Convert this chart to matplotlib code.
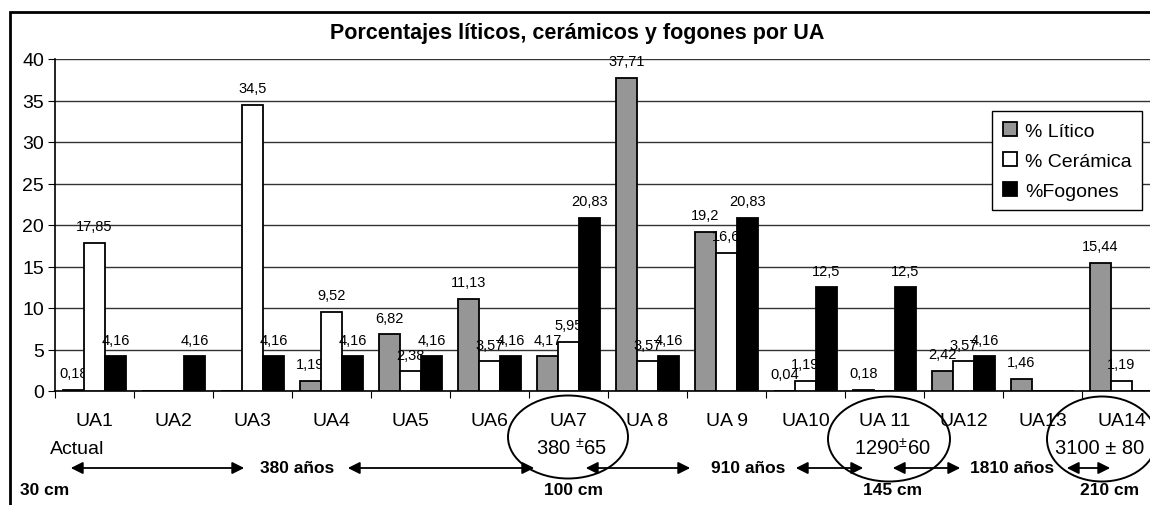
import numpy as np
import matplotlib
matplotlib.use("Agg")
import matplotlib.pyplot as plt
from matplotlib.patches import Ellipse, Rectangle, FancyArrowPatch

plt.rcParams['font.family'] = ['Liberation Sans', 'DejaVu Sans']
plt.rcParams['mathtext.fontset'] = 'custom'
plt.rcParams['mathtext.rm'] = 'Liberation Sans'

categorias = ["UA1", "UA2", "UA3", "UA4", "UA5", "UA6", "UA7", "UA 8", "UA 9",
              "UA10", "UA 11", "UA12", "UA13", "UA14"]
litico = [0.18, 0, 0, 1.19, 6.82, 11.13, 4.17, 37.71, 19.2, 0.04, 0.18, 2.42, 1.46, 15.44]
ceramica = [17.85, 0, 34.5, 9.52, 2.38, 3.57, 5.95, 3.57, 16.6, 1.19, 0, 3.57, 0, 1.19]
fogones = [4.16, 4.16, 4.16, 4.16, 4.16, 4.16, 20.83, 4.16, 20.83, 12.5, 12.5, 4.16, 0, 0]
series = ["% Lítico", "% Cerámica", "%Fogones"]
colores = ["#969696", "white", "black"]

W, H = 1150, 506
fig = plt.figure(figsize=(W / 100, H / 100), dpi=100)

def fx(x):
    return x / W

def fy(y):
    return 1 - y / H

# marco exterior
fig.patches.append(Rectangle((fx(10), fy(520)), fx(1160), fy(13) - fy(520),
                             transform=fig.transFigure, fill=False, lw=2, ec="black"))

ax = fig.add_axes([fx(55), fy(392), fx(1106), fy(60) - fy(392)])
x = np.arange(len(categorias))
w = 0.266
for k, (vals, col) in enumerate(zip([litico, ceramica, fogones], colores)):
    pos = x + (k - 1) * w
    ax.bar(pos, vals, w, color=col, edgecolor="black", linewidth=1.3, label=series[k], zorder=3)
    for p, v in zip(pos, vals):
        if v > 0:
            ax.annotate(f"{v:g}".replace(".", ","), (p, v), xytext=(0, 7),
                        textcoords="offset points", ha="center", va="bottom", fontsize=10.5)

ax.set_ylim(0, 40)
ax.set_xlim(-0.5, len(categorias) - 0.5)
ax.set_yticks(range(0, 41, 5))
ax.set_yticklabels([str(v) for v in range(0, 41, 5)], fontsize=14)
ax.yaxis.grid(True, color="#333333", lw=1, zorder=0)
ax.set_xticks(np.arange(len(categorias) + 1) - 0.5)
ax.set_xticklabels([])
ax.set_xticks(x, minor=True)
ax.set_xticklabels(categorias, minor=True, fontsize=14)
ax.tick_params(axis="x", which="minor", length=0, pad=15)
ax.tick_params(axis="x", which="major", length=5, direction="out")
ax.tick_params(axis="y", length=5, pad=3)
for s in ["top", "right"]:
    ax.spines[s].set_visible(False)
ax.spines["left"].set_linewidth(1.2)
ax.spines["bottom"].set_linewidth(1.2)

fig.text(fx(577), fy(34), "Porcentajes líticos, cerámicos y fogones por UA",
         ha="center", va="center", fontsize=15.5, fontweight="bold")

fig.legend(loc="upper left", bbox_to_anchor=(fx(992), fy(112)), fontsize=14,
           frameon=True, fancybox=False, edgecolor="black", framealpha=1,
           handlelength=0.75, handleheight=0.75, handletextpad=0.4,
           labelspacing=0.62, borderpad=0.55, borderaxespad=0)

# anotaciones inferiores
fig.text(fx(50), fy(450), "Actual", ha="left", va="center", fontsize=14)
flechas = [(68, 247), (345, 537), (583, 693), (793, 866), (890, 963), (1064, 1113)]
for a, b in flechas:
    fig.patches.append(FancyArrowPatch(
        (fx(a), fy(469)), (fx(b), fy(469)), transform=fig.transFigure,
        arrowstyle="<|-|>", mutation_scale=18, color="black", lw=1.3))

negrita = [(297, "380 años"), (748, "910 años"), (1012, "1810 años")]
for cx, t in negrita:
    fig.text(fx(cx), fy(469), t, ha="center", va="center", fontsize=12.5, fontweight="bold")

cms = [(20, "30 cm", "left"), (573, "100 cm", "center"), (893, "145 cm", "center"),
       (1110, "210 cm", "center")]
for cx, t, ha in cms:
    fig.text(fx(cx), fy(491), t, ha=ha, va="center", fontsize=12.5, fontweight="bold")

elipses = [(568, 438, 120, 83), (889, 440, 122, 85), (1102, 440, 110, 85)]
for cx, cy, ew, eh in elipses:
    fig.patches.append(Ellipse((fx(cx), fy(cy)), fx(ew), fy(0) - fy(eh),
                               transform=fig.transFigure, fill=False, ec="black", lw=1.4))

fechas = [(572, "380 $^{\\pm}$65"), (892, "1290$^{\\pm}$60"), (1100, "3100 ± 80")]
for cx, t in fechas:
    fig.text(fx(cx), fy(449), t, ha="center", va="center", fontsize=14.5)

fig.savefig("out.png", dpi=100)
